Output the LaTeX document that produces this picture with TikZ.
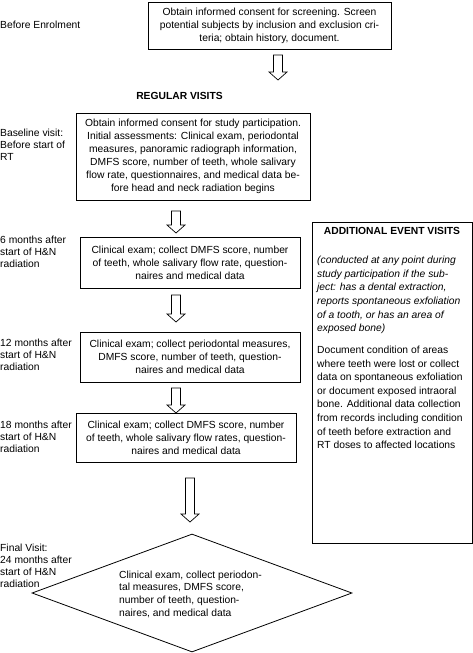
\documentclass[tikz,border=0pt]{standalone}
\usepackage{fontspec}
\setmainfont{Liberation Sans}
\usetikzlibrary{shapes.geometric}
\tikzset{
  box/.style={draw=black, line width=0.8pt, rectangle, inner sep=0pt, align=center,
    font=\fontsize{10.3}{13}\selectfont},
  lbl/.style={anchor=west, align=left, inner sep=0pt, font=\fontsize{10.3}{12}\selectfont},
  harrow/.style={draw=black, line width=0.7pt, fill=white, line join=miter},
  side/.style={anchor=west, align=left, inner sep=0pt, font=\fontsize{10.3}{13.6}\selectfont}
}
\newcommand\hollowarrow[4]{% name, x, top, tip
  \coordinate (#1s) at (#2,#3);
  \coordinate (#1e) at (#2,#4);
  \draw[harrow] (#2-4.5,#3) -- (#2+4.5,#3) -- (#2+4.5,#4-8) -- (#2+9,#4-8) -- (#1e)
    -- (#2-9,#4-8) -- (#2-4.5,#4-8) -- cycle;}
\begin{document}
\begin{tikzpicture}[x=1pt,y=-1pt]
\useasboundingbox (0,0) rectangle (473,653);

% left labels
\node[lbl] (l0) at (0,25) {Before Enrolment};
\node[lbl] (l1) at (0,145) {Baseline visit:\\Before start of\\RT};
\node[lbl] (l2) at (0,252) {6 months after\\start of H\&N\\radiation};
\node[lbl] (l3) at (0,355) {12 months after\\start of H\&N\\radiation};
\node[lbl] (l4) at (0,437) {18 months after\\start of H\&N\\radiation};
\node[lbl] (l5) at (0,566) {Final Visit:\\24 months after\\start of H\&N\\radiation};

% boxes
\node[box, minimum width=243, minimum height=47] (b1) at (269.5,25.5)
 {Obtain informed consent for screening. Screen\\potential subjects by inclusion and exclusion cri-\\teria; obtain history, document.};

\node[font=\fontsize{10.3}{12}\selectfont\bfseries, inner sep=0pt] (rv) at (179.5,96) {REGULAR VISITS};

\node[box, minimum width=234, minimum height=87] (b2) at (193,156.5)
 {Obtain informed consent for study participation.\\Initial assessments: Clinical exam, periodontal\\measures, panoramic radiograph information,\\DMFS score, number of teeth, whole salivary\\flow rate, questionnaires, and medical data be-\\fore head and neck radiation begins};

\node[box, minimum width=220, minimum height=51] (b3) at (190,262.5)
 {Clinical exam; collect DMFS score, number\\of teeth, whole salivary flow rate, question-\\naires and medical data};

\node[box, minimum width=220, minimum height=50] (b4) at (190,357)
 {Clinical exam; collect periodontal measures,\\DMFS score, number of teeth, question-\\naires and medical data};

\node[box, minimum width=220, minimum height=49] (b5) at (186,437.5)
 {Clinical exam; collect DMFS score, number\\of teeth, whole salivary flow rates, question-\\naires and medical data};

\node[diamond, draw=black, line width=0.8pt, minimum width=320, minimum height=118, inner sep=0pt] (d) at (192,593) {};
\node[align=left, inner sep=0pt, font=\fontsize{10.3}{12.7}\selectfont, anchor=west] (dt) at (119,594)
 {Clinical exam, collect periodon-\\tal measures, DMFS score,\\number of teeth, question-\\naires, and medical data};

% additional event visits box
\node[draw=black, line width=0.8pt, minimum width=160, minimum height=321, inner sep=0pt] (ae) at (392,382.5) {};
\node[font=\fontsize{10.3}{12}\selectfont\bfseries, inner sep=0pt] (aet) at (392,231) {ADDITIONAL EVENT VISITS};
\node[side, font=\fontsize{10.3}{13.6}\selectfont\itshape] (aei) at (317,295)
 {(conducted at any point during\\study participation if the sub-\\ject: has a dental extraction,\\reports spontaneous exfoliation\\of a tooth, or has an area of\\exposed bone)};
\node[side] (aen) at (317,397.5)
 {Document condition of areas\\where teeth were lost or collect\\data on spontaneous exfoliation\\or document exposed intraoral\\bone. Additional data collection\\from records including condition\\of teeth before extraction and\\RT doses to affected locations};

% hollow arrows
\hollowarrow{a1}{278}{55}{80}
\hollowarrow{a2}{176}{211}{233}
\hollowarrow{a3}{176}{295}{322}
\hollowarrow{a4}{176}{388}{413}
\hollowarrow{a5}{190}{478}{522}
\end{tikzpicture}
\end{document}
